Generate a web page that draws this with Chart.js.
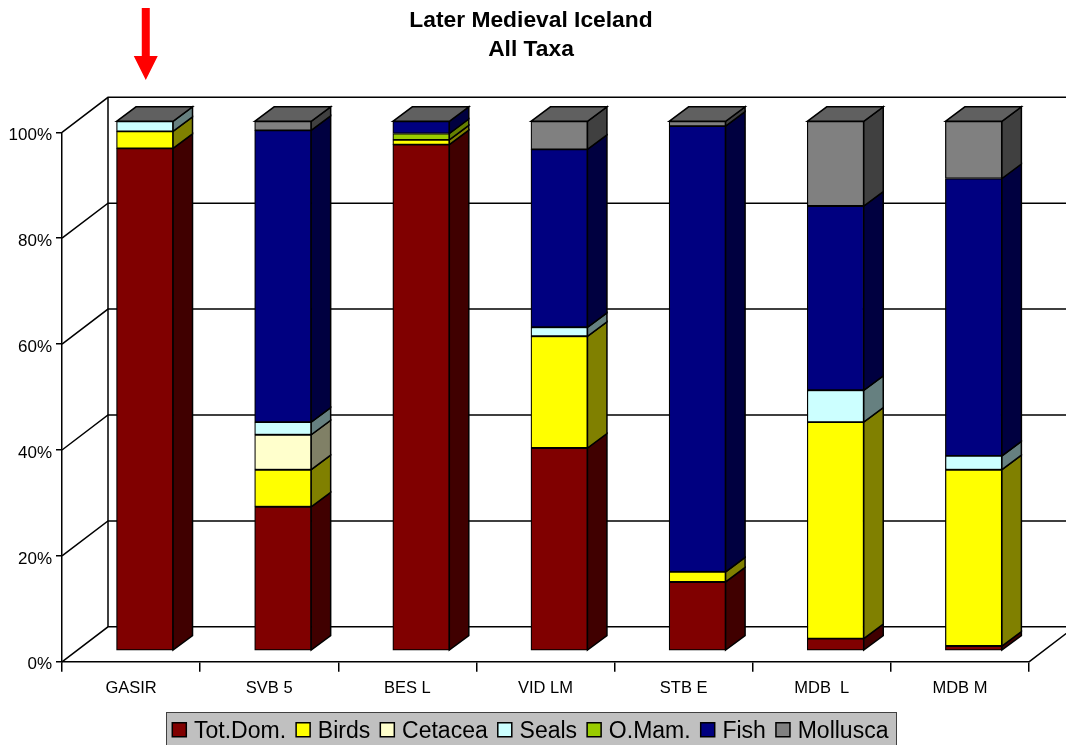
<!DOCTYPE html>
<html>
<head>
<meta charset="utf-8">
<script src="https://cdn.jsdelivr.net/npm/chart.js@4/dist/chart.umd.js"></script>
<style>html,body{margin:0;padding:0;background:#fff;overflow:hidden}canvas{display:block}</style>
</head>
<body>
<canvas id="c" width="1066" height="745"></canvas>
<script>
const sites = ['GASIR', 'SVB 5', 'BES L', 'VID LM', 'STB E', 'MDB  L', 'MDB M'];
const totDom   = [94.9, 27.2, 95.6, 38.3, 13.0, 2.3, 0.9];
const birds    = [3.2, 7.0, 0.9, 21.1, 1.9, 40.9, 33.3];
const cetacea  = [0, 6.6, 0, 0, 0, 0, 0];
const seals    = [1.9, 2.4, 0, 1.7, 0, 6.0, 2.6];
const oMam     = [0, 0, 1.2, 0, 0, 0, 0];
const fish     = [0, 55.1, 2.3, 33.6, 84.2, 34.8, 52.4];
const mollusca = [0, 1.7, 0, 5.3, 0.9, 16.0, 10.8];
const seriesNames  = ['Tot.Dom.', 'Birds', 'Cetacea', 'Seals', 'O.Mam.', 'Fish', 'Mollusca'];
const seriesValues = [totDom, birds, cetacea, seals, oMam, fish, mollusca];
const faceColors = ['#800000', '#ffff00', '#ffffcc', '#ccffff', '#99cc00', '#000080', '#808080'];
const sideColors = ['#400000', '#808000', '#808066', '#668080', '#668000', '#000040', '#404040'];
const roofColor = '#606060';

// Depth of the box and of the columns standing inside it.
const boxDepth = { x: 46, y: -35 };
const barShift = { x: 13.7, y: -11 };
const barDepth = { x: 19.5, y: -14.5 };

function poly(ctx, pts, fill) {
  ctx.beginPath();
  pts.forEach((p, i) => i ? ctx.lineTo(p[0], p[1]) : ctx.moveTo(p[0], p[1]));
  ctx.closePath();
  if (fill) { ctx.fillStyle = fill; ctx.fill(); }
  ctx.stroke();
}

const box3d = {
  id: 'box3d',
  afterLayout(chart) {
    // Tick labels hang outside the narrow y axis box, so widen its clip region.
    chart.scales.y.left = 0;
    // Nudge the legend a little to the left of the title's centre line.
    const legend = chart.legend, nudge = 1;
    legend.left -= nudge;
    legend.right -= nudge;
    legend.legendHitBoxes.forEach(h => { h.left -= nudge; });
  },
  beforeDraw(chart) {
    // Grey panel behind the legend entries.
    const ctx = chart.ctx, hits = chart.legend.legendHitBoxes;
    const first = hits[0], last = hits[hits.length - 1];
    ctx.save();
    ctx.fillStyle = '#c0c0c0';
    ctx.strokeStyle = '#404040';
    ctx.lineWidth = 1;
    const left = Math.round(first.left - 6) + 0.5;
    const right = Math.round(last.left + last.width + 8) + 0.5;
    ctx.fillRect(left, 712.5, right - left, 40);
    ctx.strokeRect(left, 712.5, right - left, 40);
    ctx.restore();
  },
  beforeDatasetsDraw(chart) {
    const { ctx, scales: { y } } = chart;
    const a = chart.chartArea;
    const dx = boxDepth.x, dy = boxDepth.y;
    ctx.save();
    ctx.strokeStyle = '#000';
    ctx.lineWidth = 1.5;
    // Back wall gridlines, left wall diagonals and floor edges.
    y.ticks.forEach(t => {
      const py = y.getPixelForValue(t.value);
      ctx.beginPath();
      ctx.moveTo(a.left, py);
      ctx.lineTo(a.left + dx, py + dy);
      ctx.lineTo(a.right + dx, py + dy);
      ctx.stroke();
    });
    ctx.beginPath();
    ctx.moveTo(a.left + dx, a.top + dy);
    ctx.lineTo(a.left + dx, a.bottom + dy);
    ctx.moveTo(a.right, a.bottom);
    ctx.lineTo(a.right + dx, a.bottom + dy);
    ctx.stroke();

    // Side and roof faces of each column; the front faces are the library's bars.
    ctx.translate(barShift.x, barShift.y);
    ctx.lineWidth = 1.5;
    const bx = barDepth.x, by = barDepth.y;
    const lastMeta = chart.getDatasetMeta(seriesNames.length - 1);
    seriesNames.forEach((name, i) => {
      chart.getDatasetMeta(i).data.forEach(bar => {
        const p = bar.getProps(['x', 'y', 'base', 'width']);
        if (Math.abs(p.base - p.y) < 0.01) return;
        const r = p.x + p.width / 2;
        poly(ctx, [[r, p.y], [r + bx, p.y + by], [r + bx, p.base + by], [r, p.base]], sideColors[i]);
      });
    });
    lastMeta.data.forEach(bar => {
      const p = bar.getProps(['x', 'y', 'width']);
      const l = p.x - p.width / 2, r = p.x + p.width / 2;
      poly(ctx, [[l, p.y], [l + bx, p.y + by], [r + bx, p.y + by], [r, p.y]], roofColor);
    });
    // The translation stays active while the library paints the bars.
  },
  afterDatasetsDraw(chart) {
    chart.ctx.restore();
  },
  afterDraw(chart) {
    const { ctx, scales: { x } } = chart;
    ctx.save();
    // Legend swatches.
    ctx.strokeStyle = '#000';
    ctx.lineWidth = 1.5;
    chart.legend.legendHitBoxes.forEach((h, i) => {
      const sy = Math.round(h.top + h.height / 2 - 9) + 0.75;
      const sx = h.left + 0.75;
      ctx.fillStyle = faceColors[i];
      ctx.fillRect(sx, sy, 14, 14);
      ctx.strokeRect(sx, sy, 14, 14);
    });
    // Red pointer above the first site.
    const cx = x.getPixelForValue(0) + barShift.x + 1;
    ctx.fillStyle = '#ff0000';
    ctx.beginPath();
    ctx.moveTo(cx - 4, 8);
    ctx.lineTo(cx + 4, 8);
    ctx.lineTo(cx + 4, 56);
    ctx.lineTo(cx + 12, 56);
    ctx.lineTo(cx, 80);
    ctx.lineTo(cx - 12, 56);
    ctx.lineTo(cx - 4, 56);
    ctx.closePath();
    ctx.fill();
    ctx.restore();
  }
};

Chart.defaults.font.family = '"Liberation Sans", Arial, sans-serif';
Chart.defaults.color = '#000';

new Chart(document.getElementById('c'), {
  type: 'bar',
  data: {
    labels: sites,
    datasets: seriesNames.map((name, i) => ({
      label: name,
      data: seriesValues[i],
      backgroundColor: faceColors[i],
      borderColor: '#000',
      borderWidth: 1.25,
      borderSkipped: false,
      barThickness: 56.5,
      clip: false
    }))
  },
  plugins: [box3d],
  options: {
    responsive: false,
    animation: false,
    layout: { padding: { left: 33, right: 37, top: 0, bottom: -7.9 } },
    plugins: {
      tooltip: { enabled: false },
      title: {
        display: true,
        text: ['Later Medieval Iceland', 'All Taxa'],
        color: '#000',
        font: { size: 22.8, weight: 'bold', lineHeight: 1.27 },
        padding: { top: 6, bottom: 68.4 }
      },
      legend: {
        position: 'bottom',
        labels: {
          color: '#000',
          font: { size: 23 },
          boxWidth: 11,
          boxHeight: 15,
          padding: 9.3,
          generateLabels: chart => chart.data.datasets.map((d, i) => ({
            text: d.label,
            fillStyle: 'rgba(0,0,0,0)',
            strokeStyle: 'rgba(0,0,0,0)',
            lineWidth: 0,
            datasetIndex: i
          }))
        }
      }
    },
    scales: {
      x: {
        stacked: true,
        afterFit(s) { s.height = 48.8; },
        grid: { drawOnChartArea: false, color: '#000', lineWidth: 1.5, tickLength: 10 },
        border: { color: '#000', width: 1.5 },
        ticks: { font: { size: 16.5 }, color: '#000', padding: 7, maxRotation: 0, autoSkip: false }
      },
      y: {
        stacked: true,
        min: 0,
        max: 100,
        afterFit(s) { s.width = 29; },
        grid: { drawOnChartArea: false, color: '#000', lineWidth: 1.5, tickLength: 6 },
        border: { color: '#000', width: 1.5 },
        ticks: {
          stepSize: 20,
          font: { size: 17 },
          color: '#000',
          padding: 4,
          labelOffset: 3,
          callback: v => v + '%'
        }
      }
    }
  }
});
</script>
</body>
</html>
